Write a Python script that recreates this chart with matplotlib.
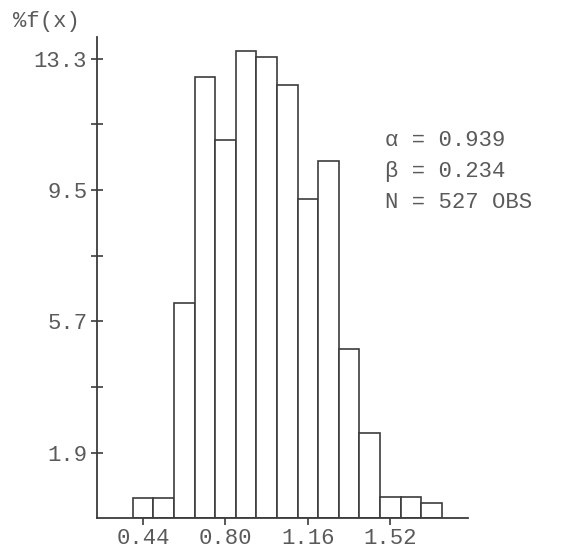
import numpy as np
from matplotlib import pyplot as plt

# bin centres and percent frequency
bin_centers = [0.44, 0.53, 0.62, 0.71, 0.80, 0.89, 0.98, 1.07, 1.16, 1.25, 1.34, 1.43, 1.52, 1.61, 1.70]
pct_freq = [0.60, 0.60, 6.24, 12.78, 10.95, 13.51, 13.36, 12.54, 9.24, 10.35, 4.90, 2.47, 0.61, 0.61, 0.44]
bin_width = 0.09

x_ticks = [0.44, 0.80, 1.16, 1.52]
y_ticks = [1.9, 5.7, 9.5, 13.3]
y_minor = [3.8, 7.6, 11.4]
stats_lines = ['\u03b1 = 0.939', '\u03b2 = 0.234', 'N = 527 OBS']

ink = '#3c3c3c'
txt = '#5a5a5a'
font = ['Liberation Mono', 'DejaVu Sans Mono']
fs = 16

fig = plt.figure(figsize=(5.69, 5.54), dpi=100)
ax = fig.add_axes([0.1705, 0.0641, 0.652, 0.8686])

ax.bar(bin_centers, pct_freq, bin_width, color='white', edgecolor=ink, linewidth=1.2)

ax.set_xlim(0.239, 1.859)
ax.set_ylim(0, 13.92)
for s in ['top', 'right']:
    ax.spines[s].set_visible(False)
for s in ['left', 'bottom']:
    ax.spines[s].set_color(ink)
    ax.spines[s].set_linewidth(1.3)

ax.set_xticks(x_ticks)
ax.set_xticklabels(['%.2f' % v for v in x_ticks], family=font, fontsize=fs, color=txt)
ax.set_yticks(y_ticks)
ax.set_yticklabels(['%.1f' % v for v in y_ticks], family=font, fontsize=fs, color=txt)
ax.set_yticks(y_minor, minor=True)
ax.tick_params(axis='y', which='both', direction='inout', length=8, width=1.2, color=ink, pad=3)
ax.tick_params(axis='x', direction='out', length=5, width=1.2, color=ink, pad=2)

# axis title and fitted parameters
fig.text(13 / 569, 1 - 22 / 554, '%f(x)', family=font, fontsize=fs, color=txt, va='center', ha='left')
for i, line in enumerate(stats_lines):
    fig.text(385 / 569, 1 - (140 + 31.5 * i) / 554, line, family=font, fontsize=fs, color=txt, va='center', ha='left')

plt.savefig('out.png', dpi=100)
